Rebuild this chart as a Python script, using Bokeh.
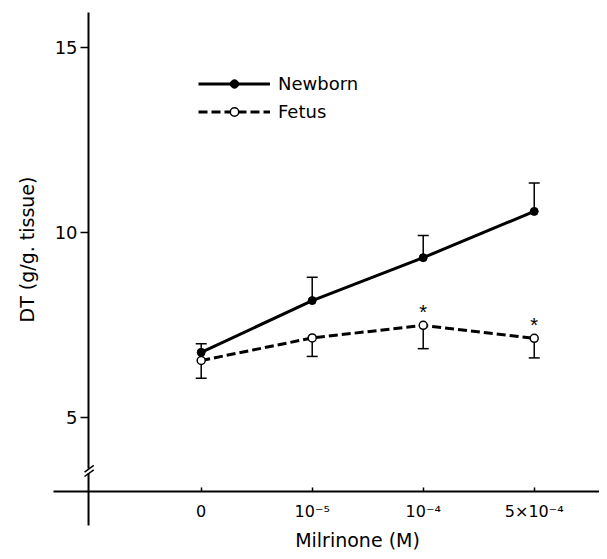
from bokeh.plotting import figure
from bokeh.models import (Range1d, FixedTicker, Whisker, ColumnDataSource, Legend,
                          LegendItem, Label, TeeHead)
from bokeh.embed import file_html
from bokeh.resources import INLINE

# ---- data ----
categories = ["0", "10\u207b\u2075", "10\u207b\u2074", "5\u00d710\u207b\u2074"]
x_pos = [0, 1, 2, 3]
newborn = [6.76, 8.16, 9.32, 10.57]
newborn_se = [0.23, 0.63, 0.60, 0.77]
fetus = [6.54, 7.15, 7.49, 7.14]
fetus_se = [0.48, 0.50, 0.63, 0.53]
significant = [False, False, True, True]
y_ticks = [5, 10, 15]

FONT = "DejaVu Sans"

p = figure(width=599, height=551,
           x_range=Range1d(-1.808, 3.588), y_range=Range1d(1.378, 16.27),
           output_backend="svg", toolbar_location=None, min_border=0)
p.outline_line_color = None
p.grid.visible = False
p.background_fill_color = "white"

# ---- axes crossing at (x=-1, y=3) ----
p.xaxis.fixed_location = 3
p.yaxis.fixed_location = -1.015
p.xaxis.bounds = (-1.33, 3.588)
p.yaxis.bounds = (3.61, 15.95)
p.xaxis.ticker = FixedTicker(ticks=x_pos)
p.yaxis.ticker = FixedTicker(ticks=y_ticks)
p.xaxis.major_label_overrides = {x: c for x, c in zip(x_pos, categories)}
p.axis.minor_tick_line_color = None
p.axis.axis_line_color = "black"
p.axis.major_tick_line_color = "black"
p.axis.axis_line_width = 2
p.axis.major_tick_line_width = 1.5
p.axis.major_label_text_color = "black"
p.axis.major_label_text_font = FONT
p.xaxis.major_tick_in = 4
p.xaxis.major_tick_out = 0
p.xaxis.major_label_standoff = 11
p.xaxis.major_label_text_font_size = "16px"
p.yaxis.major_tick_in = 0
p.yaxis.major_tick_out = 8
p.yaxis.major_label_standoff = 3
p.yaxis.major_label_text_font_size = "18px"

# lower part of the y axis below the break, and the break marks
p.segment(x0=[-1.015], y0=[2.08], x1=[-1.015], y1=[3.49], line_color="black", line_width=2)
p.segment(x0=[-1.051, -1.051], y0=[3.522, 3.405], x1=[-0.968, -0.968], y1=[3.703, 3.586],
          line_color="black", line_width=1.5)

# ---- error bars ----
nb_src = ColumnDataSource(dict(x=x_pos, lo=newborn,
                               hi=[m + s for m, s in zip(newborn, newborn_se)]))
f_src = ColumnDataSource(dict(x=x_pos, lo=[m - s for m, s in zip(fetus, fetus_se)],
                              hi=fetus))
p.add_layout(Whisker(source=nb_src, base="x", lower="lo", upper="hi", dimension="height",
                     line_color="black", line_width=1.5, lower_head=None,
                     upper_head=TeeHead(size=11, line_color="black", line_width=1.5)))
p.add_layout(Whisker(source=f_src, base="x", lower="lo", upper="hi", dimension="height",
                     line_color="black", line_width=1.5, upper_head=None,
                     lower_head=TeeHead(size=11, line_color="black", line_width=1.5)))

# ---- series ----
nb_line = p.line(x_pos, newborn, line_color="black", line_width=3)
nb_pts = p.scatter(x_pos, newborn, marker="circle", size=8, fill_color="black",
                   line_color="black")
f_line = p.line(x_pos, fetus, line_color="black", line_width=3, line_dash="9 4")
f_pts = p.scatter(x_pos, fetus, marker="circle", size=8, fill_color="white",
                  line_color="black", line_width=1.5)

# significance asterisks
sx = [x for x, s in zip(x_pos, significant) if s]
sy = [v for v, s in zip(fetus, significant) if s]
p.text(x=sx, y=sy, text=["*"] * len(sx), text_align="center", text_baseline="middle",
       y_offset=-13, text_font_size="20px", text_color="black")

# ---- legend ----
legend = Legend(items=[LegendItem(label="Newborn", renderers=[nb_line, nb_pts]),
                       LegendItem(label="Fetus", renderers=[f_line, f_pts])],
                location=(198, 429.5), padding=0, margin=0, spacing=7,
                glyph_width=72, glyph_height=21, label_height=21, label_standoff=8,
                border_line_alpha=0, background_fill_alpha=0,
                label_text_font=FONT, label_text_font_size="18px",
                label_text_color="black")
p.add_layout(legend)

# ---- axis titles ----
p.add_layout(Label(x=1.408, y=1.40, text="Milrinone (M)", text_align="center",
                   text_baseline="bottom", text_font=FONT, text_font_size="19px",
                   text_color="black"))
p.add_layout(Label(x=-1.565, y=9.54, text="DT (g/g. tissue)", angle=90, angle_units="deg",
                   text_align="center", text_baseline="middle", text_font=FONT,
                   text_font_size="19px", text_color="black"))

open("out.html", "w").write(file_html(p, INLINE))
